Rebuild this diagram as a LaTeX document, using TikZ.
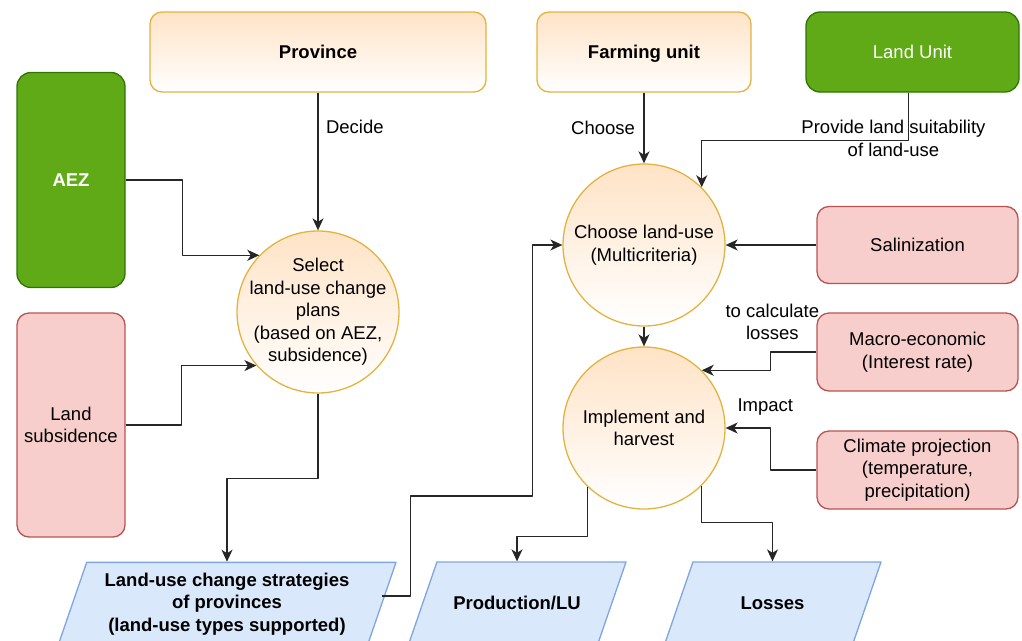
\documentclass[tikz,border=0pt]{standalone}
\usepackage{fontspec}
\setmainfont{Liberation Sans}
\usetikzlibrary{arrows.meta}
\usetikzlibrary{shapes.geometric}
\definecolor{orfill}{HTML}{FFE3C6}
\definecolor{orline}{HTML}{E3B340}
\definecolor{grfill}{HTML}{60A917}
\definecolor{grline}{HTML}{2D7600}
\definecolor{pkfill}{HTML}{F8CECC}
\definecolor{pkline}{HTML}{B85450}
\definecolor{blfill}{HTML}{DAE8FC}
\definecolor{blline}{HTML}{7EA6E0}
\newcommand{\txt}{\fontsize{18.5}{22.5}\selectfont}

\begin{document}
\begin{tikzpicture}[x=1pt,y=-1pt,line join=round,>={Stealth[length=12pt,width=11pt,inset=3.5pt]},font=\txt,
  orbox/.style={draw=orline,line width=1.3pt,rounded corners=12pt,top color=orfill,bottom color=white,minimum height=80pt,text height=13.5pt,text depth=0pt,font=\txt\bfseries},
  orcircle/.style={circle,draw=orline,line width=1.3pt,top color=orfill,bottom color=white,minimum size=162pt,inner sep=0pt,align=center},
  grbox/.style={draw=grline,line width=1.3pt,rounded corners=14pt,fill=grfill,text=white},
  pkbox/.style={draw=pkline,line width=1.3pt,rounded corners=12pt,fill=pkfill,align=center},
  outbox/.style={trapezium,trapezium left angle=71,trapezium right angle=109,trapezium stretches body,draw=blline,line width=1.3pt,fill=blfill,inner xsep=0pt,align=center,font=\txt\bfseries},
  link/.style={->,draw=black!85,line width=1.4pt}]
      \useasboundingbox (0,0) rectangle (1022,640);
      % top row
      \node[orbox,minimum width=336pt] (prov) at (318,52) {Province};
      \node[orbox,minimum width=214pt] (farm) at (644,52) {Farming unit};
      \node[grbox,minimum width=213pt,minimum height=80pt,text height=13.5pt,text depth=0pt] (lu) at (912.5,52) {Land Unit};
      % left column
      \node[grbox,font=\txt\bfseries,minimum width=108pt,minimum height=215pt] (aez) at (71,180) {AEZ};
      \node[pkbox,minimum width=108pt,minimum height=224pt] (subs) at (71,425) {Land\\subsidence};
      % processes
      \node[orcircle,inner sep=-10pt] (select) at (318,312) {Select\\land-use change\\plans\\(based on AEZ,\\subsidence)};
      \node[orcircle] (choose) at (644,245) {Choose land-use\\(Multicriteria)};
      \node[orcircle] (impl) at (644,428) {Implement and\\harvest};
      % right column
      \node[pkbox,minimum width=201pt,minimum height=77pt] (sal) at (917.5,245) {Salinization};
      \node[pkbox,minimum width=201pt,minimum height=78pt] (macro) at (917.5,352) {Macro-economic\\(Interest rate)};
      \node[pkbox,minimum width=201pt,minimum height=78pt] (clim) at (917.5,470) {Climate projection\\(temperature,\\precipitation)};
      % outputs
      \node[outbox,minimum width=338pt,inner ysep=10.5pt] (strat) at (227,604) {Land-use change strategies\\of provinces\\(land-use types supported)};
      \node[outbox,minimum width=218pt,text height=13.5pt,text depth=3.5pt,inner ysep=33.5pt] (prod) at (517,604) {Production/LU};
      \node[outbox,minimum width=217pt,text height=13.5pt,text depth=3.5pt,inner ysep=33.5pt] (loss) at (772.5,604) {Losses};
      % links
      \draw[link] (prov.south) -- (select.north) node[pos=0.25,right=4pt] {Decide};
      \draw[link] (aez.east) -- ++(57,0) |- (select.136);
      \draw[link] (subs.east) -- ++(56,0) |- (select.221);
      \draw[link] (select.south) -- ++(0,85) -| (strat.center |- strat.north);
      \draw[link] ([yshift=8pt]strat.east) -- ++(28,0) -- ++(0,-100) -- ++(122,0) |- (choose.west);
      \draw[link] (farm.south) -- (choose.north) node[midway,left=5pt] {Choose};
      \draw[link] ([xshift=-4pt]lu.south) -- ++(0,48) node[xshift=-15pt,yshift=2.5pt,align=center] {Provide land suitability\\of land-use} -| (choose.45);
      \draw[link] (sal.west) -- (choose.east);
      \draw[link] (choose.south) -- (impl.north);
      \draw[link] (macro.west) -- ++(-46,0) node[xshift=2pt,yshift=30pt,align=center] {to calculate\\losses} |- (impl.45);
      \draw[link] (clim.west) -- ++(-46,0) -- ++(0,-42) node[xshift=-5pt,yshift=21pt] {Impact} -- (impl.east);
      \draw[link] (impl.226) -- ++(0,50) -| (prod.center |- prod.north);
      \draw[link] (impl.-45) -- ++(0,37) -| (loss.center |- loss.north);
\end{tikzpicture}
\end{document}
